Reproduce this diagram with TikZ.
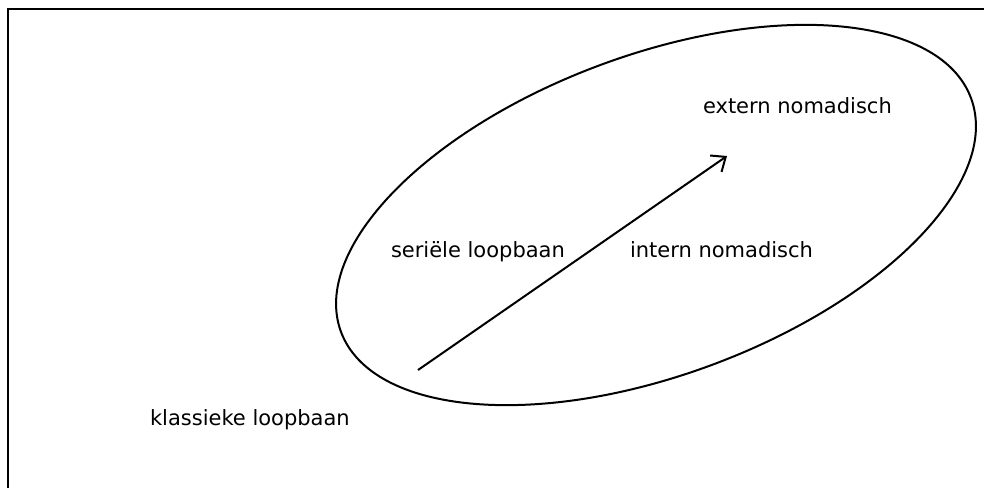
\documentclass[tikz,border=0pt]{standalone}
\usepackage{fontspec}
\setmainfont{DejaVu Sans}
\usepackage{tikz}
\usetikzlibrary{arrows.meta}

\begin{document}
\begin{tikzpicture}[x=0.5pt, y=-0.5pt, line width=1pt,
    font=\fontsize{10.5}{12.6}\selectfont,
    label/.style={anchor=base west, inner sep=0pt}]
  \useasboundingbox (0,0) rectangle (984,487);
  \clip (0,0) rectangle (984,487);
  \draw (8,9) rectangle (1000,500);
  % ellipse round the careers
  \draw[rotate around={20.35:(656,215)}] (656,215) ellipse [x radius=336, y radius=160];
  \node[label] (klassiek) at (149,425) {klassieke loopbaan};
  \node[label] (serieel)  at (390,257) {seriële loopbaan};
  \node[label] (intern)   at (629,257) {intern nomadisch};
  \node[label] (extern)   at (702,113) {extern nomadisch};
  \coordinate (van)  at (418,370);
  \coordinate (naar) at (727,156);
  \draw[-{Straight Barb[length=6pt, width=10pt]}] (van) -- (naar);
\end{tikzpicture}
\end{document}
